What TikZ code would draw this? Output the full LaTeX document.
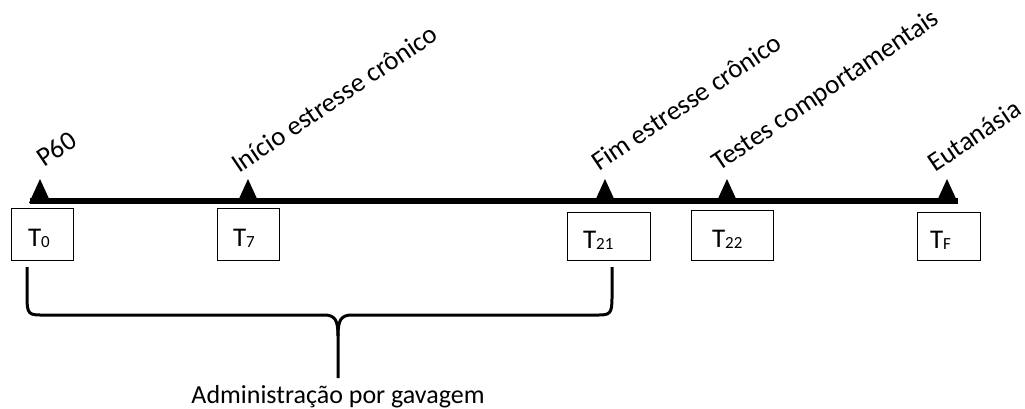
\documentclass[tikz,border=0pt]{standalone}
\usepackage{fontspec}
\setmainfont{Carlito}
\newcommand\lowidx[1]{\raisebox{-1.5pt}{\fontsize{17}{17}\selectfont #1}}
\begin{document}
\begin{tikzpicture}[x=1pt,y=-1pt,
  every node/.style={font=\fontsize{27}{32}\selectfont, inner sep=0pt},
  tbox/.style={draw, line width=1pt, align=left, text height=26pt, text depth=2pt},
  event/.style={anchor=base west, rotate=34},
  marker/.style={fill=black},
  axis/.style={line width=5.5pt},
  bracket/.style={line width=3pt, line join=round}
]
\useasboundingbox (0,0) rectangle (1025,409);

% time axis
\coordinate (start) at (30,201);
\coordinate (end) at (958,201);
\draw[axis] (start) -- (end);

% event markers on the axis
\foreach \n/\x in {m0/40, m7/248, m21/605, m22/727, mf/947}{
  \coordinate (\n) at (\x,201);
  \fill[marker] (\n) ++(-11,2) -- ++(11,-24) -- ++(11,24) -- cycle;
}

% event labels
\node[event] (l0)  at (44,168)  {P60};
\node[event] (l7)  at (239,174) {Início estresse crônico};
\node[event] (l21) at (599,172) {Fim estresse crônico};
\node[event] (l22) at (719,172) {Testes comportamentais};
\node[event] (lf)  at (935,173) {Eutanásia};

% day boxes
\node[tbox, inner xsep=17pt, text width=28pt, minimum height=52pt] (t0)  at (42,234)    {T\lowidx{0}};
\node[tbox, inner xsep=16pt, text width=30pt, minimum height=52pt] (t7)  at (248,234)   {T\lowidx{7}};
\node[tbox, inner xsep=16pt, text width=51pt, minimum height=48pt] (t21) at (608.5,236) {T\lowidx{21}};
\node[tbox, inner xsep=21pt, text width=40pt, minimum height=50pt] (t22) at (732,235)   {T\lowidx{22}};
\node[tbox, inner xsep=13pt, text width=37pt, minimum height=48pt] (tf)  at (948.5,236) {T\lowidx{F}};

% brace spanning T0 to T21
\coordinate (bl) at (27,267);
\coordinate (br) at (612,267);
\coordinate (tip) at (338,378);
\draw[bracket] (bl) -- (27,298) .. controls (27,313) and (29,315) .. (40,315)
  -- (324,315) .. controls (335,315) and (338,320) .. (338,336) -- (tip);
\draw[bracket] (br) -- (612,298) .. controls (612,313) and (610,315) .. (599,315)
  -- (352,315) .. controls (341,315) and (338,320) .. (338,336);

\node[anchor=base, font=\fontsize{26}{30}\selectfont] (adm) at (338,403) {Administração por gavagem};
\end{tikzpicture}
\end{document}
